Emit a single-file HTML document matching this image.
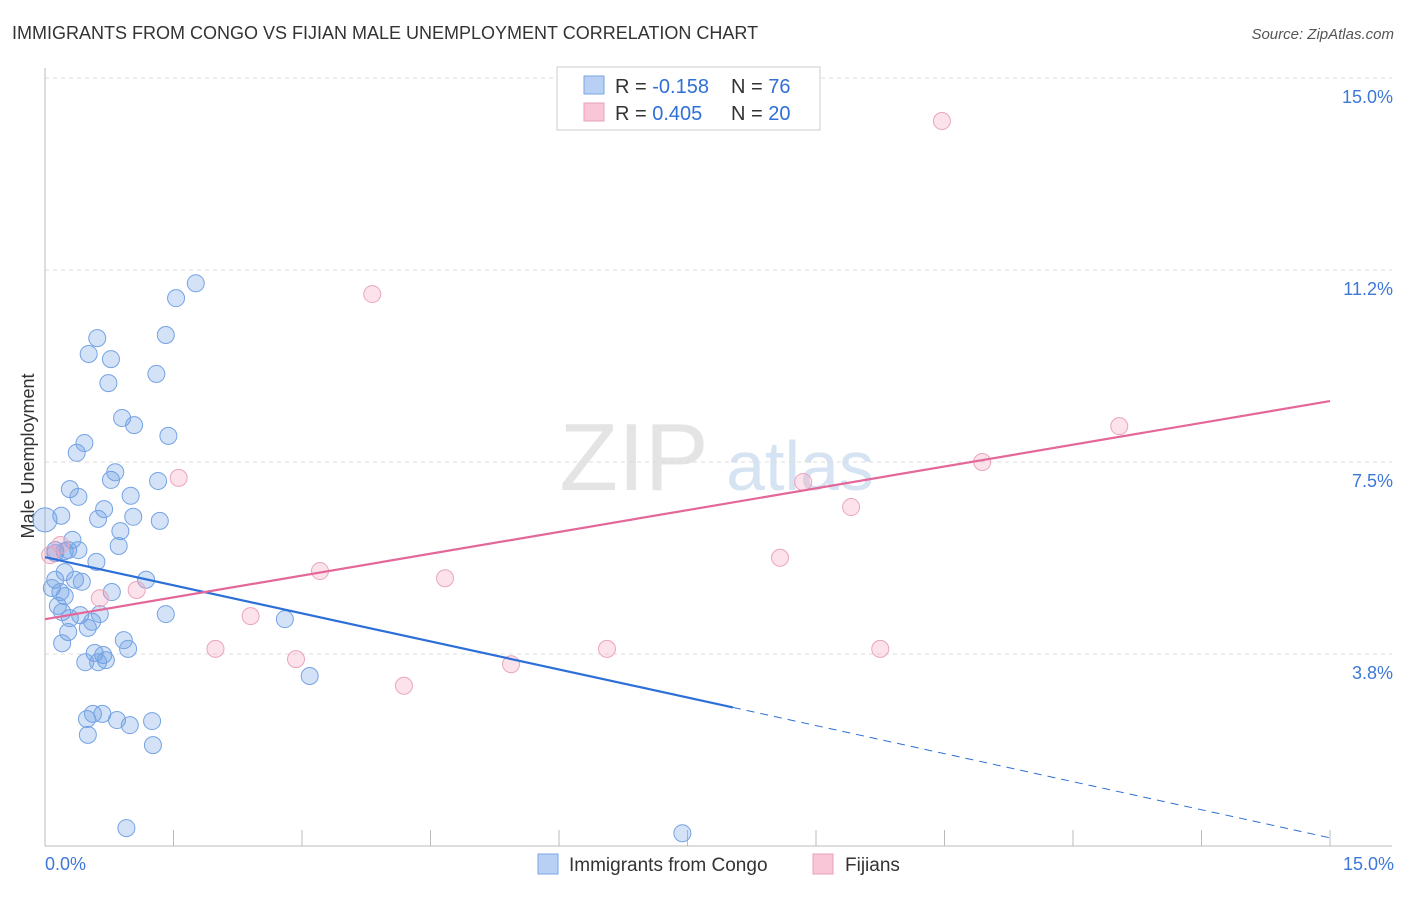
<!DOCTYPE html>
<html><head><meta charset="utf-8"><style>
body{margin:0;background:#fff;font-family:"Liberation Sans",sans-serif;}
svg text{font-family:"Liberation Sans",sans-serif;}
</style></head><body>
<svg id="chart" width="1406" height="892" xmlns="http://www.w3.org/2000/svg">
<text x="12" y="39" font-size="18" fill="#333">IMMIGRANTS FROM CONGO VS FIJIAN MALE UNEMPLOYMENT CORRELATION CHART</text>
<text x="1394" y="39" font-size="15" fill="#555" text-anchor="end" font-style="italic">Source: ZipAtlas.com</text>
<text x="634" y="490" font-size="96" fill="#e4e4e4" font-family="Liberation Serif" text-anchor="middle">ZIP</text>
<text x="800" y="490" font-size="70" fill="#d6e3f3" text-anchor="middle">atlas</text>
<text transform="translate(34,456) rotate(-90)" font-size="18" fill="#333" text-anchor="middle">Male Unemployment</text>
<g id="grid"></g><g id="marks"></g>
<g>
<rect x="557" y="67" width="263" height="63" fill="#fff" stroke="#ccc"/>
<rect x="584" y="76" width="20" height="18" fill="#b8d0f3" stroke="#7aa6e4"/>
<rect x="584" y="103" width="20" height="18" fill="#f8c6d6" stroke="#eaa0bb"/>
<text x="615" y="93" font-size="20" fill="#333">R = <tspan fill="#2f6fd6">-0.158</tspan><tspan x="731">N = </tspan><tspan fill="#2f6fd6">76</tspan></text>
<text x="615" y="120" font-size="20" fill="#333">R = <tspan fill="#2f6fd6"> 0.405</tspan><tspan x="731">N = </tspan><tspan fill="#2f6fd6">20</tspan></text>
</g>
<g>
<rect x="538" y="854" width="20" height="20" fill="#b8d0f3" stroke="#7aa6e4"/>
<text x="569" y="871" font-size="19" fill="#333">Immigrants from Congo</text>
<rect x="813" y="854" width="20" height="20" fill="#f8c6d6" stroke="#eaa0bb"/>
<text x="845" y="871" font-size="19" fill="#333">Fijians</text>
</g>
</svg>
<script>
const yTicks=[15.0,11.2,7.5,3.8];
const yTickVals=[15,11.25,7.5,3.75];
const xTickLabels=["0.0%","15.0%"];
const congoX=[0,0.12,0.12,0.08,0.18,0.15,0.2,0.23,0.23,0.32,0.27,0.39,0.35,0.43,0.29,0.27,0.2,0.41,0.5,0.55,0.6,0.64,0.58,0.68,0.62,0.71,0.47,0.78,0.92,0.97,1.18,1.41,2.8,3.09,0.49,0.56,0.67,0.84,0.5,0.99,1.25,1.26,0.95,7.44,0.62,0.69,0.29,0.39,0.19,0.88,0.86,1.03,1.0,1.34,1.32,0.77,0.82,0.37,0.46,0.9,1.04,1.44,0.74,0.51,0.77,0.61,1.3,1.41,1.53,1.76,0.12,0.23];
const congoY=[6.37,5.78,5.2,5.04,4.96,4.69,4.57,4.88,5.35,5.98,5.78,5.78,5.2,5.16,4.45,4.18,3.96,4.51,4.26,4.38,5.55,4.53,3.77,3.73,3.59,3.63,3.59,4.96,4.02,3.85,5.2,4.53,4.43,3.32,2.48,2.58,2.58,2.46,2.17,2.36,2.44,1.97,0.35,0.25,6.39,6.58,6.97,6.82,6.45,6.15,5.86,6.43,6.84,6.35,7.13,7.15,7.3,7.68,7.87,8.36,8.22,8.01,9.04,9.61,9.51,9.92,9.22,9.98,10.7,10.99,5.72,5.76];
const fijiX=[0.06,0.18,0.64,1.07,1.56,1.99,2.4,2.93,3.21,3.82,4.19,4.67,5.44,6.56,8.58,8.85,9.41,9.75,10.47,10.94,12.54];
const fijiY=[5.68,5.88,4.84,5.0,7.19,3.85,4.49,3.65,5.37,10.78,3.13,5.23,3.55,3.85,5.63,7.11,6.62,3.85,14.16,7.5,8.2];
const congoTrend=[5.64,0.16];
const fijiTrend=[4.43,8.69];
const congoSolidEnd=8.03;

const NS="http://www.w3.org/2000/svg";
const X=v=>45+v*(1285/15);
const Y=v=>78+(15-v)*(768/15);
function mk(tag,attrs,parent){const e=document.createElementNS(NS,tag);for(const k in attrs)e.setAttribute(k,attrs[k]);parent.appendChild(e);return e;}
const grid=document.getElementById('grid'),marks=document.getElementById('marks');
yTickVals.forEach((v,i)=>{
 const l=mk('line',{x1:45,x2:1392,y1:Y(v),y2:Y(v),stroke:'#ddd','stroke-dasharray':'4,4'},grid);
 
 
 const t=mk('text',{x:1393,y:Y(v)+25,'font-size':18,fill:'#3d78d8','text-anchor':'end'},grid);
 t.textContent=yTicks[i].toFixed(1)+'%';
 
 
});
const ax=mk('line',{x1:45,x2:45,y1:68,y2:846,stroke:'#bbb'},grid);


const bx=mk('line',{x1:45,x2:1392,y1:846,y2:846,stroke:'#bbb'},grid);


for(let i=0;i<=10;i++){
 const t=mk('line',{x1:X(i*1.5),x2:X(i*1.5),y1:830,y2:846,stroke:'#bbb'},grid);
 
 
}
[[0,'start',45],[15,'end',1394]].forEach((d,i)=>{
 const t=mk('text',{x:d[2],y:870,'font-size':18,fill:'#3d78d8','text-anchor':d[1]},grid);
 t.textContent=xTickLabels[i];
 
 
});
congoX.forEach((x,i)=>{
 const c=mk('circle',{cx:X(x),cy:Y(congoY[i]),r:i===0?12:8.5,fill:'rgba(110,160,230,0.3)',stroke:'#75a3e3','stroke-width':1},marks);
 
 
});
fijiX.forEach((x,i)=>{
 const c=mk('circle',{cx:X(x),cy:Y(fijiY[i]),r:8.5,fill:'rgba(245,160,190,0.3)',stroke:'#eba5be','stroke-width':1},marks);
 
 
});
const cy=x=>congoTrend[0]+(congoTrend[1]-congoTrend[0])*x/15;
const l1=mk('line',{x1:X(0),y1:Y(cy(0)),x2:X(congoSolidEnd),y2:Y(cy(congoSolidEnd)),stroke:'#2d6fd8','stroke-width':2.2},marks);


const l2=mk('line',{x1:X(congoSolidEnd),y1:Y(cy(congoSolidEnd)),x2:X(15),y2:Y(cy(15)),stroke:'#2d6fd8','stroke-width':1,'stroke-dasharray':'8,6'},marks);


const l3=mk('line',{x1:X(0),y1:Y(fijiTrend[0]),x2:X(15),y2:Y(fijiTrend[1]),stroke:'#e4679a','stroke-width':2.2},marks);


</script>
</body></html>
